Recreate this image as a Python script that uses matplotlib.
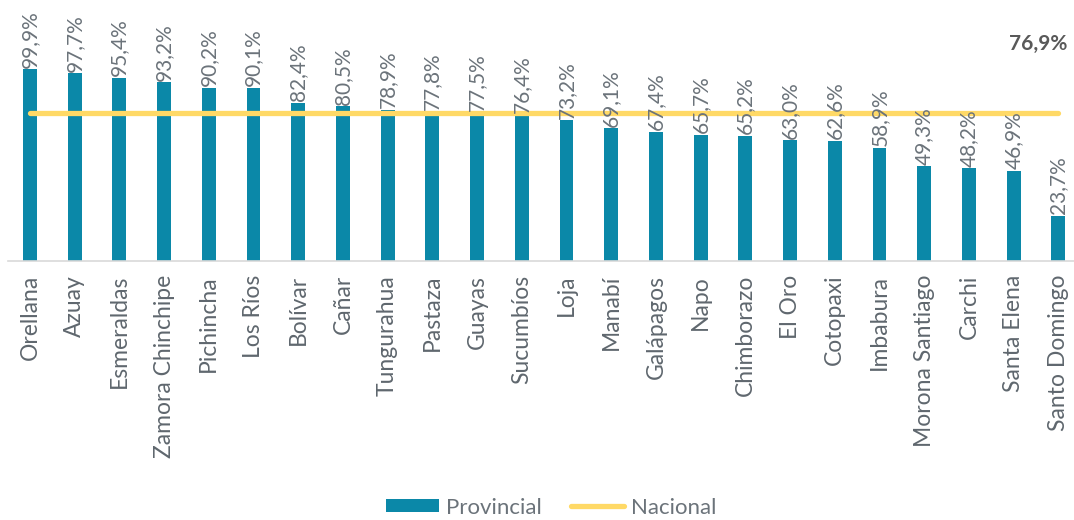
import matplotlib
matplotlib.use("Agg")
import matplotlib.pyplot as plt
from matplotlib.patches import Patch
from matplotlib.lines import Line2D

provincias = ['Orellana', 'Azuay', 'Esmeraldas', 'Zamora Chinchipe', 'Pichincha', 'Los Ríos',
              'Bolívar', 'Cañar', 'Tungurahua', 'Pastaza', 'Guayas', 'Sucumbíos', 'Loja',
              'Manabí', 'Galápagos', 'Napo', 'Chimborazo', 'El Oro', 'Cotopaxi', 'Imbabura',
              'Morona Santiago', 'Carchi', 'Santa Elena', 'Santo Domingo']
provincial = [99.9, 97.7, 95.4, 93.2, 90.2, 90.1, 82.4, 80.5, 78.9, 77.8, 77.5, 76.4, 73.2,
              69.1, 67.4, 65.7, 65.2, 63.0, 62.6, 58.9, 49.3, 48.2, 46.9, 23.7]
nacional = 76.9

BAR_COLOR = '#0b88a8'
LINE_COLOR = '#ffd966'
TEXT_COLOR = '#6b737a'

plt.rcParams['font.family'] = ['Lato', 'DejaVu Sans']

fig = plt.figure(figsize=(10.74, 5.2), dpi=100)
ax = fig.add_axes([0.007, 0.498, 0.993, 0.4985])

x = list(range(len(provincias)))
ax.bar(x, provincial, width=0.31, color=BAR_COLOR, zorder=2)
ax.plot([x[0], x[-1]], [nacional, nacional], color=LINE_COLOR, lw=3.8,
        solid_capstyle='round', zorder=3)

# value labels above each bar
for xi, v in zip(x, provincial):
    ax.text(xi, v + 0.8, f'{v:.1f}%'.replace('.', ','), rotation=90, ha='center', va='bottom',
            fontsize=15, color=TEXT_COLOR)

ax.text(x[-1] - 0.45, 113, f'{nacional:.1f}%'.replace('.', ','), ha='center', va='center',
        fontsize=15, fontweight='bold', color='#595959')

ax.set_xlim(-0.5, 23.35)
ax.set_ylim(0, 135)
ax.set_xticks(x)
ax.set_xticklabels(provincias, rotation=90, fontsize=16.5, color='#5f676e')
ax.tick_params(axis='x', length=0, pad=10)
ax.set_yticks([])
for s in ['top', 'right', 'left']:
    ax.spines[s].set_visible(False)
ax.spines['bottom'].set_color('#d9d9d9')
ax.spines['bottom'].set_linewidth(1.2)

handles = [Patch(facecolor=BAR_COLOR, label='Provincial'),
           Line2D([0], [0], color=LINE_COLOR, lw=3.8, solid_capstyle='round', label='Nacional')]
fig.legend(handles=handles, loc='center', bbox_to_anchor=(0.513, 0.024), ncol=2, frameon=False,
           fontsize=16, labelcolor=TEXT_COLOR, handlelength=2.4,
           handleheight=0.55, columnspacing=1.3, handletextpad=0.3)

fig.savefig('out.png', dpi=100)
